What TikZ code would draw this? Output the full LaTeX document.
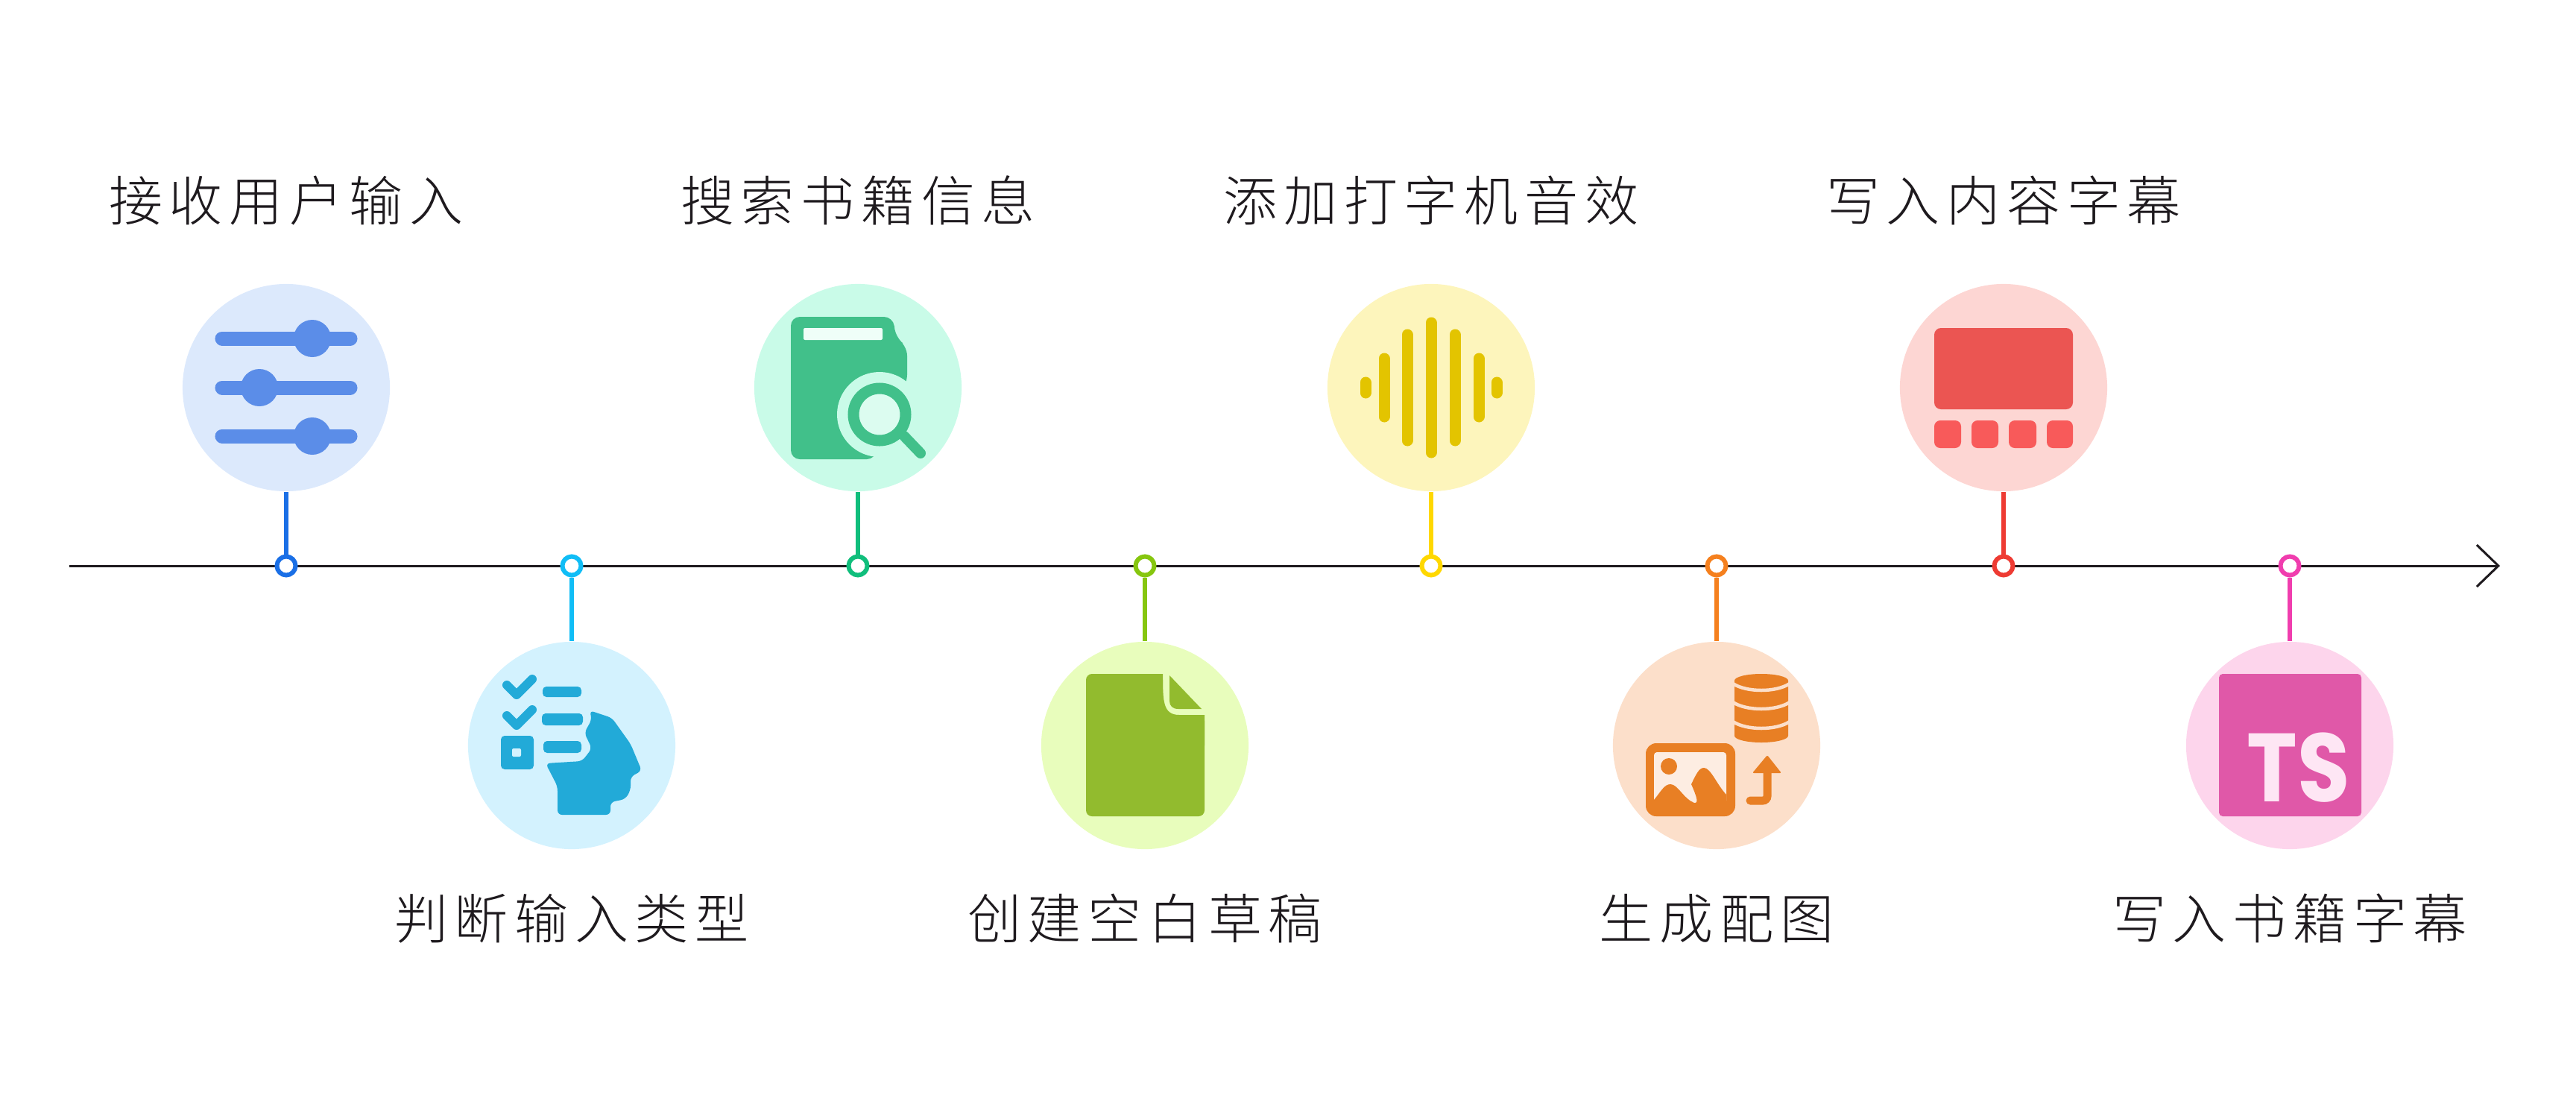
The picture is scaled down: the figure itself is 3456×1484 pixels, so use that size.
\documentclass[tikz,border=0pt]{standalone}
\usepackage{xcolor}
\usepackage{fontspec}
\usetikzlibrary{arrows.meta}
\newfontfamily\cjk[LetterSpace=12]{Noto Sans CJK SC Light}
\newfontfamily\badge[FakeStretch=.88]{Poppins}
\definecolor{ink}{HTML}{1E1A1E}
\definecolor{stemblue}{HTML}{1A6FE6}
\definecolor{discblue}{HTML}{DCE9FC}
\definecolor{iconblue}{HTML}{5B8DE8}
\definecolor{stemsky}{HTML}{10BDF6}
\definecolor{discsky}{HTML}{D3F2FE}
\definecolor{iconsky}{HTML}{22AAD8}
\definecolor{stemmint}{HTML}{10BE7C}
\definecolor{discmint}{HTML}{C9FBE8}
\definecolor{iconmint}{HTML}{41C08A}
\definecolor{stemlime}{HTML}{86C60F}
\definecolor{disclime}{HTML}{E8FDBC}
\definecolor{iconlime}{HTML}{92BB2E}
\definecolor{stemgold}{HTML}{FFD800}
\definecolor{discgold}{HTML}{FDF5BC}
\definecolor{icongold}{HTML}{E3C400}
\definecolor{stemorange}{HTML}{F5801E}
\definecolor{discorange}{HTML}{FCDFCA}
\definecolor{iconorange}{HTML}{E87F24}
\definecolor{stemred}{HTML}{EE3B33}
\definecolor{discred}{HTML}{FDD6D3}
\definecolor{iconred}{HTML}{EB5552}
\definecolor{tilered}{HTML}{F85A5A}
\definecolor{stempink}{HTML}{F03DAE}
\definecolor{discpink}{HTML}{FDD5EC}
\definecolor{iconpink}{HTML}{E058A8}
\tikzset{
  axisline/.style={-{Straight Barb[length=.29cm,width=.56cm]},line width=.03cm,color=ink},
  disc/.style={circle,minimum size=2.78cm,inner sep=0pt},
  dot/.style={circle,fill=white,line width=.06cm,minimum size=.25cm,inner sep=0pt},
  stem/.style={line width=.06cm},
  lab/.style={font=\cjk\fontsize{20.5}{24}\selectfont,text=ink,inner sep=0pt}
}
\begin{document}
\begin{tikzpicture}[x=.01cm,y=-.01cm]
  \useasboundingbox (0,0) rectangle (3456,1484);
  \coordinate (axisL) at (93,759);
  \coordinate (axisR) at (3354,759);
  \draw[axisline] (axisL) -- (axisR);
  \foreach \n/\x/\cy/\ly/\c/\txt in {
    1/384/520/269/blue/接收用户输入,
    2/767/1000/1232/sky/判断输入类型,
    3/1151/520/269/mint/搜索书籍信息,
    4/1536/1000/1232/lime/创建空白草稿,
    5/1920/520/269/gold/添加打字机音效,
    6/2303/1000/1232/orange/生成配图,
    7/2688/520/269/red/写入内容字幕,
    8/3072/1000/1232/pink/写入书籍字幕} {
    \node[disc,fill=disc\c] (disc\n) at (\x,\cy) {};
    \node[dot,draw=stem\c] (dot\n) at (\x,759) {};
    \draw[stem,stem\c] (disc\n) -- (dot\n);
    \node[lab] (lab\n) at (\x,\ly) {\txt};
  }
  % sliders
  \begin{scope}[shift={(disc1.center)}]
    \foreach \dy/\kx in {-66/35,0/-36,65/35} {
      \draw[iconblue,line width=.19cm,line cap=round] (-86,\dy) -- (86,\dy);
      \fill[iconblue] (\kx,\dy) circle (25);
    }
  \end{scope}
  % checklist and head
  \begin{scope}[shift={(disc2.center)}]
    \foreach \dy in {0,41} {
      \draw[iconsky,line width=.12cm,line join=round,line cap=round] (-87,-81+\dy) -- (-74,-68+\dy) -- (-53,-89+\dy);
    }
    \fill[iconsky,rounded corners=.05cm] (-95,-13) rectangle (-51,32);
    \fill[discsky,rounded corners=.02cm] (-80,4) rectangle (-68,15);
    \fill[iconsky,rounded corners=.05cm] (-39,-79) rectangle (13,-65);
    \fill[iconsky,rounded corners=.05cm] (-40,-43) rectangle (15,-27);
    \fill[iconsky,rounded corners=.05cm] (-38,-6) rectangle (13,10);
    \fill[iconsky,rounded corners=.06cm] (24,-47) -- (54,-37) -- (79,-2) -- (94,34) -- (79,42) -- (79,60)
      -- (72,72) -- (52,76) -- (52,93) -- (-19,93) -- (-19,55) -- (-35,24) -- (14,21) -- (27,4)
      -- (17,-17) -- (27,-35) -- cycle;
  \end{scope}
  % book and lens
  \begin{scope}[shift={(disc3.center)}]
    \fill[iconmint,rounded corners=.12cm] (-90,-95) -- (47,-95) -- (51,-67) -- (66,-55) -- (66,-5) -- (29,36) -- (24,96) -- (-90,96) -- cycle;
    \fill[discmint] (29,36) circle (57);
    \fill[white!70!discmint,rounded corners=.02cm] (-73,-80) rectangle (33,-64);
    \draw[iconmint,line width=.15cm,fill=white!35!discmint] (29,36) circle (35);
    \draw[iconmint,line width=.14cm,line cap=round] (62,65) -- (84,88);
  \end{scope}
  % blank page
  \begin{scope}[shift={(disc4.center)}]
    \fill[iconlime,rounded corners=.08cm] (-79,-96) -- (24,-96) -- (24,-41) -- (80,-41) -- (80,95) -- (-79,95) -- cycle;
    \fill[iconlime] (0,-96) -- (24,-96) .. controls (24,-60) and (24,-41) .. (46,-41) -- (80,-41) -- (80,0) -- (0,0) -- cycle;
    \fill[iconlime] (33,-94) -- (76,-49) -- (45,-49) .. controls (37,-49) and (33,-53) .. (33,-60) -- cycle;
  \end{scope}
  % sound wave
  \begin{scope}[shift={(disc5.center)}]
    \foreach \dx/\h in {-88/7,-63/39,-32/71,0/87,32/71,64/39,88/7} {
      \draw[icongold,line width=.15cm,line cap=round] (\dx,-\h) -- (\dx,\h);
    }
  \end{scope}
  % picture, stack and arrow
  \begin{scope}[shift={(disc6.center)}]
    \fill[iconorange] (24,-87) arc[start angle=180,end angle=0,x radius=36,y radius=-9] -- (96,-13)
      arc[start angle=0,end angle=-180,x radius=36,y radius=-9] -- cycle;
    \foreach \dy in {-83,-58,-32} {
      \draw[discorange,line width=.045cm] (22,\dy) .. controls (40,\dy+12) and (80,\dy+12) .. (98,\dy);
    }
    \fill[iconorange,rounded corners=.14cm] (-95,-3) rectangle (25,95);
    \fill[discorange!55!white,rounded corners=.04cm] (-84,9) rectangle (13,78);
    \fill[iconorange] (-64,28) circle (11);
    \fill[iconorange] (-84,73) .. controls (-75,62) and (-70,52) .. (-62,52) .. controls (-52,52) and (-44,72) .. (-30,77)
      .. controls (-24,78) and (-26,70) .. (-34,52) .. controls (-28,40) and (-24,30) .. (-17,30)
      .. controls (-8,30) and (0,52) .. (13,66) -- (13,85) -- (-84,85) -- cycle;
    \draw[iconorange,line width=.11cm,line cap=round,rounded corners=.06cm] (45,74) -- (68,74) -- (68,33);
    \fill[iconorange,rounded corners=.02cm] (68,13) -- (87,37) -- (48,37) -- cycle;
  \end{scope}
  % film strip
  \begin{scope}[shift={(disc7.center)}]
    \fill[iconred,rounded corners=.09cm] (-93,-80) rectangle (93,29);
    \foreach \xa/\xb in {-93/-57,-43/-7,7/44,58/93} {
      \fill[tilered,rounded corners=.08cm] (\xa,44) rectangle (\xb,81);
    }
  \end{scope}
  % typescript badge
  \begin{scope}[shift={(disc8.center)}]
    \fill[iconpink,rounded corners=.05cm] (-95,-96) rectangle (96,95);
    \node[font=\badge\bfseries\fontsize{37}{40}\selectfont,text=discpink!60!white,inner sep=0pt] (tsmark) at (12,30) {TS};
  \end{scope}
\end{tikzpicture}
\end{document}
